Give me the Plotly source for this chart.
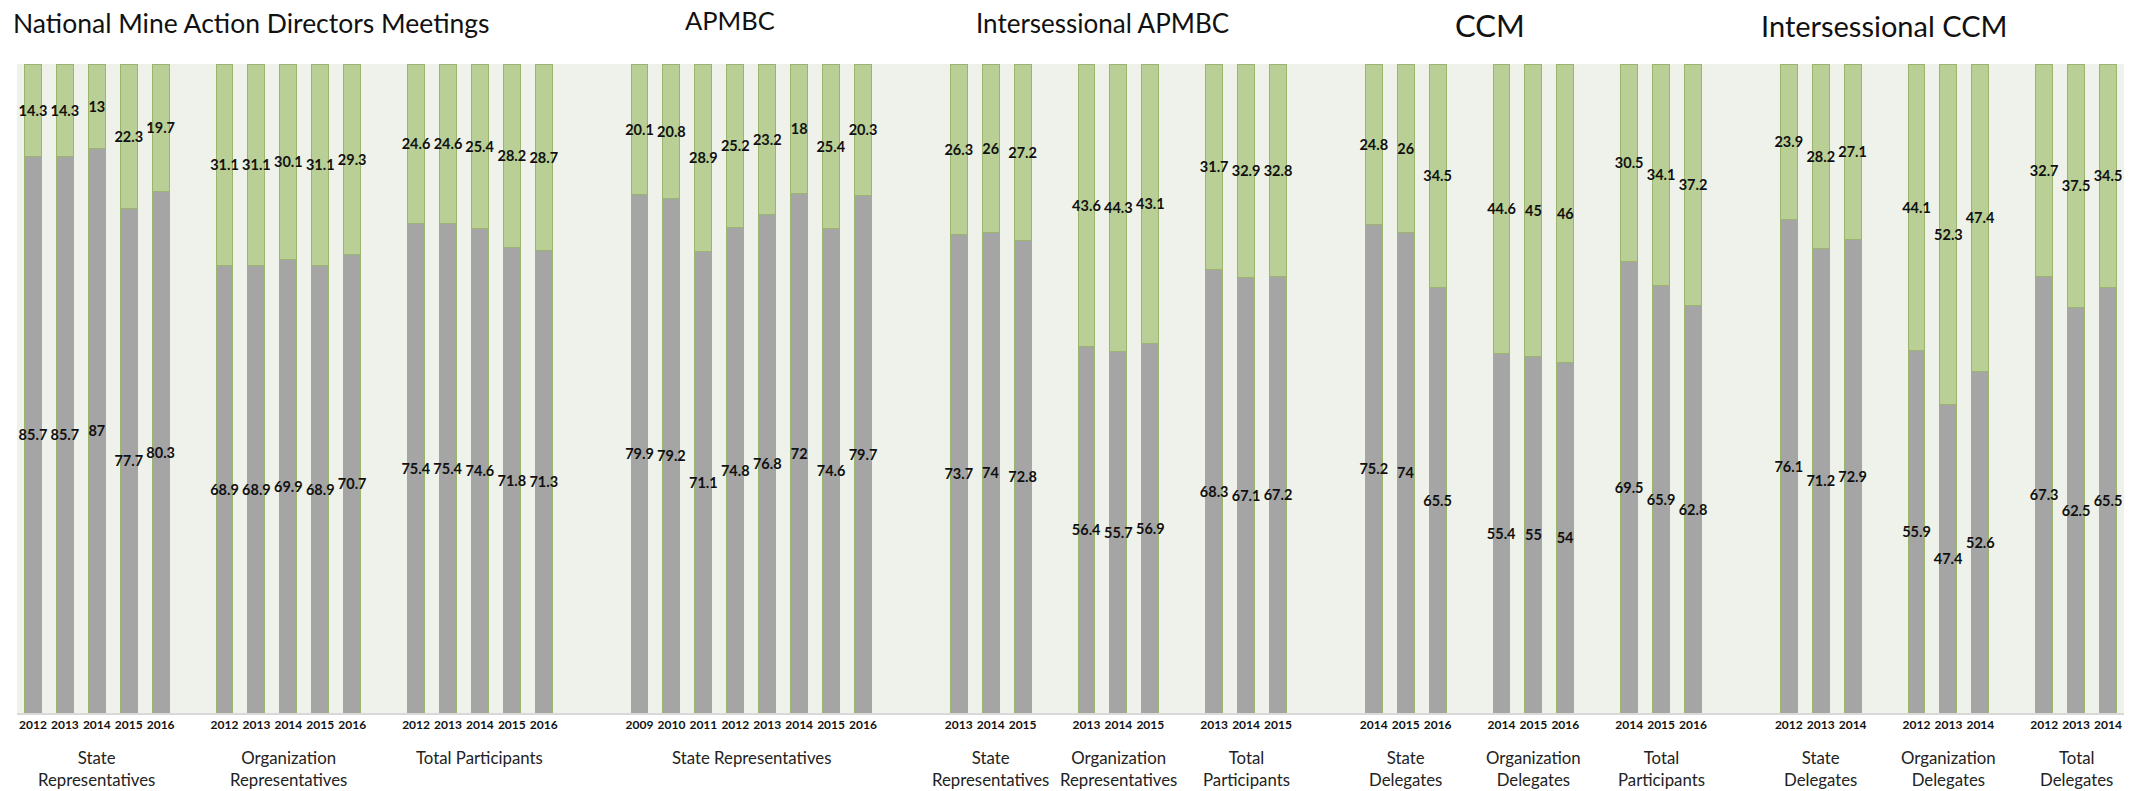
import plotly.graph_objects as go

# ---- data -------------------------------------------------------------
nmad_years = ["2012", "2013", "2014", "2015", "2016"]
nmad_state_a = [85.7, 85.7, 87, 77.7, 80.3]
nmad_state_b = [14.3, 14.3, 13, 22.3, 19.7]
nmad_org_a = [68.9, 68.9, 69.9, 68.9, 70.7]
nmad_org_b = [31.1, 31.1, 30.1, 31.1, 29.3]
nmad_total_a = [75.4, 75.4, 74.6, 71.8, 71.3]
nmad_total_b = [24.6, 24.6, 25.4, 28.2, 28.7]

apmbc_years = ["2009", "2010", "2011", "2012", "2013", "2014", "2015", "2016"]
apmbc_state_a = [79.9, 79.2, 71.1, 74.8, 76.8, 72, 74.6, 79.7]
apmbc_state_b = [20.1, 20.8, 28.9, 25.2, 23.2, 18, 25.4, 20.3]

iapmbc_years = ["2013", "2014", "2015"]
iapmbc_state_a = [73.7, 74, 72.8]
iapmbc_state_b = [26.3, 26, 27.2]
iapmbc_org_a = [56.4, 55.7, 56.9]
iapmbc_org_b = [43.6, 44.3, 43.1]
iapmbc_total_a = [68.3, 67.1, 67.2]
iapmbc_total_b = [31.7, 32.9, 32.8]

ccm_years = ["2014", "2015", "2016"]
ccm_state_a = [75.2, 74, 65.5]
ccm_state_b = [24.8, 26, 34.5]
ccm_org_a = [55.4, 55, 54]
ccm_org_b = [44.6, 45, 46]
ccm_total_a = [69.5, 65.9, 62.8]
ccm_total_b = [30.5, 34.1, 37.2]

iccm_years = ["2012", "2013", "2014"]
iccm_state_a = [76.1, 71.2, 72.9]
iccm_state_b = [23.9, 28.2, 27.1]
iccm_org_a = [55.9, 47.4, 52.6]
iccm_org_b = [44.1, 52.3, 47.4]
iccm_total_a = [67.3, 62.5, 65.5]
iccm_total_b = [32.7, 37.5, 34.5]

sections = [
    ("National Mine Action Directors Meetings", [
        ("State<br>Representatives", nmad_years, nmad_state_a, nmad_state_b),
        ("Organization<br>Representatives", nmad_years, nmad_org_a, nmad_org_b),
        ("Total Participants", nmad_years, nmad_total_a, nmad_total_b),
    ]),
    ("APMBC", [
        ("State Representatives", apmbc_years, apmbc_state_a, apmbc_state_b),
    ]),
    ("Intersessional APMBC", [
        ("State<br>Representatives", iapmbc_years, iapmbc_state_a, iapmbc_state_b),
        ("Organization<br>Representatives", iapmbc_years, iapmbc_org_a, iapmbc_org_b),
        ("Total<br>Participants", iapmbc_years, iapmbc_total_a, iapmbc_total_b),
    ]),
    ("CCM", [
        ("State<br>Delegates", ccm_years, ccm_state_a, ccm_state_b),
        ("Organization<br>Delegates", ccm_years, ccm_org_a, ccm_org_b),
        ("Total<br>Participants", ccm_years, ccm_total_a, ccm_total_b),
    ]),
    ("Intersessional CCM", [
        ("State<br>Delegates", iccm_years, iccm_state_a, iccm_state_b),
        ("Organization<br>Delegates", iccm_years, iccm_org_a, iccm_org_b),
        ("Total<br>Delegates", iccm_years, iccm_total_a, iccm_total_b),
    ]),
]

# ---- styling ----------------------------------------------------------
FONT = "Lato, Carlito, Calibri, 'Open Sans', sans-serif"
GRAY = "#A5A5A5"
GREEN = "#B9CF96"
EDGE = "#9BB56E"
PLOT_BG = "#EFF2EA"
MARGIN = dict(l=17, r=21, t=64, b=78)
WIDTH, HEIGHT = 2145, 791

# section titles: left edge (px), vertical centre (px from top), font size
title_style = {
    "National Mine Action Directors Meetings": (11, 23, 26.5),
    "APMBC": (683, 20, 25.5),
    "Intersessional APMBC": (974, 23, 26),
    "CCM": (1453, 25, 31),
    "Intersessional CCM": (1759, 25, 29),
}

# ---- lay out slots: one empty slot between groups, two between sections
xs, ticks, a_vals, b_vals = [], [], [], []
group_marks = []
pos = 0
for si, (sec_name, groups) in enumerate(sections):
    if si > 0:
        pos += 2
    for gi, (g_label, years, a, b) in enumerate(groups):
        if gi > 0:
            pos += 1
        g_start = pos
        for yr, va, vb in zip(years, a, b):
            xs.append(pos)
            ticks.append(yr)
            a_vals.append(va)
            b_vals.append(vb)
            pos += 1
        group_marks.append((g_label, (g_start + pos - 1) / 2))
n_slots = pos


def fmt(v):
    return f"{v:g}"


fig = go.Figure()
for vals, color in ((a_vals, GRAY), (b_vals, GREEN)):
    fig.add_trace(go.Bar(
        x=xs,
        y=vals,
        width=0.53,
        marker=dict(color=color, line=dict(color=EDGE, width=1)),
        text=[fmt(v) for v in vals],
        textposition="inside",
        insidetextanchor="middle",
        textangle=0,
        constraintext="none",
        textfont=dict(family=FONT, size=14.5, color="#111111", weight="bold"),
        hoverinfo="skip",
        showlegend=False,
    ))

annotations = []
for g_label, cx in group_marks:
    annotations.append(dict(
        x=cx, y=0, xref="x", yref="paper", yanchor="top", xanchor="center",
        yshift=-32, text=g_label, showarrow=False,
        font=dict(family=FONT, size=16.8, color="#222222"),
    ))

plot_w = WIDTH - MARGIN["l"] - MARGIN["r"]
for sec_name, _ in sections:
    left_px, mid_px, size = title_style[sec_name]
    annotations.append(dict(
        x=(left_px - MARGIN["l"]) / plot_w, y=1, xref="paper", yref="paper",
        xanchor="left", yanchor="middle", yshift=MARGIN["t"] - mid_px,
        text=sec_name, showarrow=False,
        font=dict(family=FONT, size=size, color="#111111"),
    ))

fig.update_layout(
    width=WIDTH,
    height=HEIGHT,
    margin=MARGIN,
    paper_bgcolor="white",
    plot_bgcolor=PLOT_BG,
    barmode="stack",
    barnorm="percent",
    annotations=annotations,
    xaxis=dict(
        range=[-0.5, n_slots - 0.5],
        tickmode="array",
        tickvals=xs,
        ticktext=ticks,
        tickfont=dict(family=FONT, size=12, color="#111111", weight="bold"),
        ticks="",
        showgrid=False,
        zeroline=False,
        showline=True,
        linecolor="#D9D9D9",
        linewidth=2,
        fixedrange=True,
    ),
    yaxis=dict(
        range=[0, 100],
        showticklabels=False,
        showgrid=False,
        zeroline=False,
        fixedrange=True,
    ),
)

fig.write_html("out.html")
